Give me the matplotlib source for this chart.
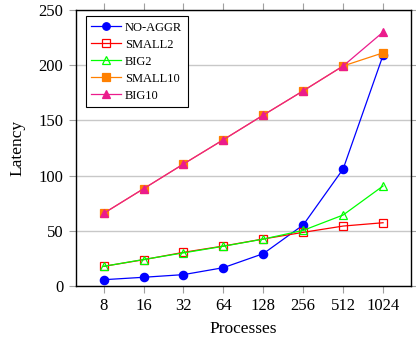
import matplotlib
matplotlib.use("Agg")
from matplotlib import pyplot as plt

plt.rcParams["font.family"] = ["Liberation Serif", "DejaVu Serif"]

processes = ["8", "16", "32", "64", "128", "256", "512", "1024"]
no_aggr = [5.7, 7.9, 10.3, 16.6, 29.3, 55.3, 106, 209]
small2 = [17.8, 23.8, 30.5, 36.2, 42.6, 48.6, 54.3, 57.3]
big2 = [17.8, 24.0, 30.0, 36.0, 42.5, 50.4, 64.3, 90.6]
small10 = [65.8, 88.1, 110.5, 132.5, 154.8, 176.8, 199.3, 211.2]
big10 = [65.8, 88.1, 110.5, 132.5, 154.8, 176.8, 199.3, 230]

series = [
    ("NO-AGGR", no_aggr, dict(color="#0000ff", marker="o", mfc="#0000ff", ms=6)),
    ("SMALL2", small2, dict(color="#ff0000", marker="s", mfc="none", ms=6)),
    ("BIG2", big2, dict(color="#00ff00", marker="^", mfc="none", ms=6)),
    ("SMALL10", small10, dict(color="#ff8000", marker="s", mfc="#ff8000", ms=6)),
    ("BIG10", big10, dict(color="#eb1c8c", marker="^", mfc="#eb1c8c", ms=6)),
]

fig = plt.figure(figsize=(4.16, 3.43), dpi=100)
ax = fig.add_axes([75.7 / 416, 57 / 343, (411 - 75.7) / 416, 276 / 343])

x = list(range(len(processes)))
for name, vals, style in series:
    ax.plot(x, vals, label=name, linewidth=0.9, markeredgewidth=0.9, **style)

ax.set_xlim(-0.7, 7.7)
ax.set_ylim(0, 250)
ax.set_xticks(x)
ax.set_xticklabels(processes)
ax.set_yticks([0, 50, 100, 150, 200, 250])
ax.yaxis.grid(True, color="#c8c8c8", linewidth=1.0)
ax.set_axisbelow(True)
ax.tick_params(direction="out", length=5, width=0.8, color="#a0a0a0", labelsize=12,
               top=True, right=True, labeltop=False, labelright=False, pad=4)
for s in ax.spines.values():
    s.set_linewidth(1.0)
    s.set_color("black")

ax.set_xlabel("Processes", fontsize=12.5, labelpad=5)
ax.set_ylabel("Latency", fontsize=12.5, labelpad=9)

leg = ax.legend(loc="upper left", bbox_to_anchor=(0.03, 0.978), borderaxespad=0,
                fontsize=9, frameon=True, fancybox=False, edgecolor="black", framealpha=1,
                handlelength=2.4, handletextpad=0.3, labelspacing=0.4, borderpad=0.45,
                markerscale=0.9)
leg.get_frame().set_linewidth(0.8)

fig.savefig("out.png", dpi=100)
plt.close(fig)
